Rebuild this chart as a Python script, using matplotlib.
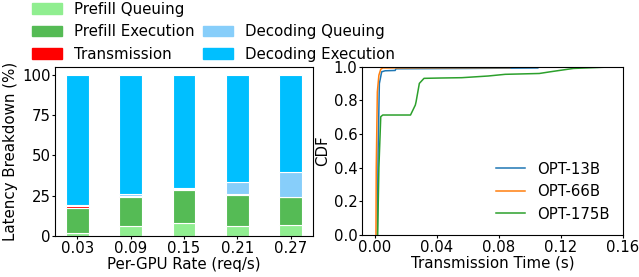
import numpy as np
import matplotlib
matplotlib.use("Agg")
import matplotlib.pyplot as plt
from matplotlib.patches import Patch

# breakdown data (%)
rates = ["0.03", "0.09", "0.15", "0.21", "0.27"]
prefill_queue = [2.1, 6.2, 8.3, 6.2, 6.8]
prefill_exec = [15.5, 18.2, 20.5, 19.5, 17.2]
transmission = [1.1, 0.2, 0.2, 0.2, 0.2]
decode_queue = [0.3, 1.7, 0.8, 7.8, 15.8]
decode_exec = [81.0, 73.7, 70.2, 66.3, 60.0]

# transmission time CDF points (s, fraction)
t13 = [0.0015, 0.002, 0.0028, 0.0043, 0.0065, 0.013, 0.0135, 0.06, 0.105]
c13 = [0.0, 0.5, 0.9, 0.97, 0.976, 0.978, 0.988, 0.99, 0.993]
t66 = [0.0006, 0.0008, 0.0015, 0.0025, 0.0037, 0.005, 0.03, 0.087]
c66 = [0.0, 0.4, 0.85, 0.95, 0.985, 0.993, 0.994, 0.995]
t175 = [0.0017, 0.0025, 0.0037, 0.005, 0.0229, 0.026, 0.0265, 0.0286,
        0.0316, 0.042, 0.056, 0.073, 0.084, 0.106, 0.113, 0.128, 0.15]
c175 = [0.0, 0.4, 0.703, 0.713, 0.713, 0.772, 0.792, 0.901,
        0.931, 0.933, 0.935, 0.945, 0.955, 0.96, 0.97, 0.99, 0.998]

plt.rcParams['font.size'] = 10.7
plt.rcParams['axes.labelsize'] = 10.8
plt.rcParams['xtick.major.size'] = 2
plt.rcParams['ytick.major.size'] = 2
plt.rcParams['xtick.major.pad'] = 1.8
plt.rcParams['ytick.major.pad'] = 1.2

fig = plt.figure(figsize=(6.39, 2.77), dpi=100)
ax1 = fig.add_axes([0.0861, 0.148, 0.4038, 0.611])
ax2 = fig.add_axes([0.5665, 0.152, 0.4085, 0.607])

colors = ["#90ee90", "#55bb55", "#ff0000", "#87cefa", "#00bfff"]
labels = ["Prefill Queuing", "Prefill Execution", "Transmission",
          "Decoding Queuing", "Decoding Execution"]
parts = [prefill_queue, prefill_exec, transmission, decode_queue, decode_exec]

x = np.arange(len(rates))
bottom = np.zeros(len(rates))
for vals, col, lab in zip(parts, colors, labels):
    ax1.bar(x, vals, 0.43, bottom=bottom, color=col, edgecolor="white",
            linewidth=0.8, label=lab)
    bottom += np.array(vals)

ax1.set_xticks(x)
ax1.set_xticklabels(rates)
ax1.set_xlim(-0.42, 4.42)
ax1.set_ylim(0, 105)
ax1.set_yticks([0, 25, 50, 75, 100])
ax1.set_xlabel("Per-GPU Rate (req/s)", labelpad=0.5)
ax1.set_ylabel("Latency Breakdown (%)", labelpad=3)

# legend with an empty slot on top of the second column
handles = [Patch(color=c) for c in colors]
blank = Patch(color="none")
leg_handles = handles[:3] + [blank] + handles[3:]
leg_labels = labels[:3] + [""] + labels[3:]
fig.legend(leg_handles, leg_labels, ncol=2, frameon=False, fontsize=10.8,
           loc="upper left", bbox_to_anchor=(0.029, 1.042),
           handlelength=2.0, labelspacing=0.5,
           columnspacing=0.55, handletextpad=0.8)

ax2.plot(t13, c13, color="tab:blue", lw=1.1, label="OPT-13B")
ax2.plot(t66, c66, color="tab:orange", lw=1.1, label="OPT-66B")
ax2.plot(t175, c175, color="tab:green", lw=1.1, label="OPT-175B")
ax2.set_xlim(-0.0084, 0.16)
ax2.set_ylim(0, 1)
ax2.set_xticks([0.0, 0.04, 0.08, 0.12, 0.16])
ax2.set_xticklabels(["0.00", "0.04", "0.08", "0.12", "0.16"])
ax2.set_yticks([0, 0.2, 0.4, 0.6, 0.8, 1.0])
ax2.set_xlabel("Transmission Time (s)", labelpad=0.5)
ax2.set_ylabel("CDF", labelpad=3)
ax2.legend(loc="lower right", frameon=False, handlelength=2.0)

fig.savefig("out.png", dpi=100)
